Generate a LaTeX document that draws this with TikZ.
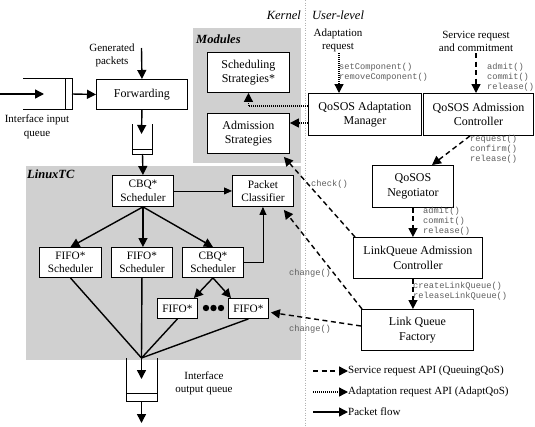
\documentclass[tikz,border=0pt]{standalone}
\usepackage{fontspec}
\setmainfont{Liberation Serif}
\setmonofont{Liberation Mono}
\usetikzlibrary{arrows.meta,calc}
\definecolor{panel}{RGB}{208,208,208}
\definecolor{apigray}{RGB}{95,95,95}
\begin{document}
\begin{tikzpicture}[x=1pt,y=-1pt,
 box/.style={draw, fill=white, line width=0.9pt, inner sep=0pt, align=center, anchor=north west, font=\fontsize{12}{14.5}\selectfont},
 sbox/.style={box, font=\fontsize{11.3}{13.5}\selectfont},
 flow/.style={line width=1.4pt, -{Triangle[length=9pt,width=9pt]}},
 thinflow/.style={line width=0.9pt, -{Triangle[length=8pt,width=7pt]}},
 plainflow/.style={line width=1.4pt},
 svc/.style={line width=1.4pt, dash pattern=on 5pt off 3.5pt, -{Triangle[length=9pt,width=9pt]}},
 adp/.style={line width=1.3pt, dash pattern=on 1pt off 1pt, -{Triangle[length=9pt,width=9pt]}},
 api/.style={font=\fontsize{8.7}{10}\selectfont\ttfamily, text=apigray, align=left, inner sep=0pt, anchor=north west},
 lbl/.style={font=\fontsize{11}{13.5}\selectfont, align=center, inner sep=0pt},
 legtxt/.style={anchor=west, inner sep=0pt, font=\fontsize{11}{13}\selectfont},
 ]
\useasboundingbox (0,0) rectangle (535,426);
\fill[white] (0,0) rectangle (535,426);
% panels
\fill[panel] (193,28) rectangle (301,163);
\fill[panel] (26,166) rectangle (301,360);
% separator
\draw[gray!60, line width=0.6pt, dash pattern=on 1pt off 1.5pt] (305,0) -- (305,426);
\node[anchor=east, inner sep=0pt, font=\fontsize{12.5}{14}\selectfont\itshape] (kern) at (301,15) {Kernel};
\node[anchor=west, inner sep=0pt, font=\fontsize{12.5}{14}\selectfont\itshape] (user) at (312,15) {User-level};
\node[anchor=west, inner sep=0pt, font=\fontsize{12.5}{14}\selectfont\bfseries\itshape] (modlbl) at (196,39) {Modules};
\node[anchor=west, inner sep=0pt, font=\fontsize{12.5}{14}\selectfont\bfseries\itshape] (tclbl) at (27,174) {LinuxTC};

% boxes
\node[box, minimum width=82pt, minimum height=40pt] (sched) at (207,52) {Scheduling\\Strategies*};
\node[box, minimum width=82pt, minimum height=40pt] (adm) at (207,113) {Admission\\Strategies};
\node[box, minimum width=91pt, minimum height=30pt] (fwd) at (96,79) {Forwarding};
\node[sbox, minimum width=61pt, minimum height=31pt] (cbq) at (112,175) {CBQ*\\Scheduler};
\node[sbox, minimum width=61pt, minimum height=31pt] (pc) at (232,175) {Packet\\Classifier};
\node[sbox, minimum width=62pt, minimum height=30pt] (f1) at (39,247) {FIFO*\\Scheduler};
\node[sbox, minimum width=61pt, minimum height=30pt] (f2) at (111,247) {FIFO*\\Scheduler};
\node[sbox, minimum width=61pt, minimum height=30pt] (cbq2) at (182,247) {CBQ*\\Scheduler};
\node[sbox, minimum width=40pt, minimum height=20pt] (sf1) at (157,298) {FIFO*};
\node[sbox, minimum width=40pt, minimum height=20pt] (sf2) at (228,298) {FIFO*};
\node[box, minimum width=113pt, minimum height=42pt] (qam) at (308,93) {QoSOS Adaptation\\Manager};
\node[box, minimum width=110pt, minimum height=42pt] (qac) at (423,93) {QoSOS Admission\\Controller};
\node[box, minimum width=81pt, minimum height=42pt] (neg) at (372,165) {QoSOS\\Negotiator};
\node[box, minimum width=129pt, minimum height=41pt] (lqac) at (353,237) {LinkQueue Admission\\Controller};
\node[box, minimum width=112pt, minimum height=41pt] (lqf) at (361,309) {Link Queue\\Factory};

% dots
\fill (206,308) circle (3.2);
\fill (213.5,308) circle (3.2);
\fill (221,308) circle (3.2);

% queues
\draw[line width=0.9pt] (23,78) -- (72,78) -- (72,109) -- (23,109);
\draw[line width=0.9pt] (65,78) -- (65,109);
\draw[line width=0.9pt] (132,124) -- (132,154) -- (152,154) -- (152,124);
\draw[line width=0.9pt] (132,149) -- (152,149);
\draw[line width=0.9pt] (126,358) -- (126,401) -- (157,401) -- (157,358);
\draw[line width=0.9pt] (126,393) -- (157,393);

% labels
\node[lbl] (genl) at (112,55.5) {Generated\\packets};
\node[lbl] (inql) at (37,127) {Interface input\\queue};
\node[lbl] (adrl) at (338,40.5) {Adaptation\\request};
\node[lbl] (srl) at (476,41.5) {Service request\\and commitment};
\node[lbl] (oql) at (204,383.5) {Interface\\output queue};

% packet flow
\coordinate (inA) at (0,94);
\coordinate (inB) at (44,94);
\draw[flow] (inA) -- (inB);
\coordinate (inQ) at (72,94);
\draw[flow] (inQ) -- (fwd.west);
\coordinate (gen) at (141.5,48);
\draw[flow] (gen) -- (fwd.north);
\coordinate (mqt) at (141.5,134);
\draw[flow] (fwd.south) -- (mqt);
\coordinate (mqb) at (142.5,154);
\draw[flow] (mqb) -- (cbq.north);
\draw[thinflow] (cbq.east) -- (pc.west);
\draw[flow] (cbq.south) -- (f1.north);
\draw[flow] (cbq.south) -- (cbq.south |- f2.north);
\draw[flow] (cbq.south) -- (cbq2.north);
\draw[thinflow] (cbq2.east) -| (pc.south);
\draw[flow] (cbq2.south) -- ([xshift=-4pt]sf1.north east);
\draw[flow] (cbq2.south) -- ([xshift=3pt]sf2.north west);
\coordinate (conv) at (141.5,358);
\draw[plainflow] (f1.south) -- (conv);
\draw[plainflow] (f2.south) -- (conv);
\draw[plainflow] (sf1.south) -- (conv);
\draw[plainflow] (sf2.south) -- (conv);
\coordinate (oq) at (141.5,379);
\draw[flow] (conv) -- (oq);
\coordinate (oqb) at (141.5,401);
\coordinate (outE) at (141.5,423);
\draw[flow] (oqb) -- (outE);

% adaptation (dotted)
\coordinate (adreq) at (339,53);
\draw[adp] (adreq) -- (adreq |- qam.north);
\coordinate (qamU) at ([yshift=-13pt]qam.north west);
\draw[adp] (qamU) -| (sched.south);
\coordinate (qamL) at ([yshift=-30pt]qam.north west);
\draw[adp] (qamL) -- (adm.east |- qamL);

% service (dashed)
\coordinate (sreq) at (476,53);
\draw[svc] (sreq) -- (sreq |- qac.north);
\draw[svc] ([xshift=47pt]qac.south west) -- ([xshift=60pt]neg.north west);
\draw[svc] (neg.south) -- (neg.south |- lqac.north);
\draw[svc] (lqac.south -| neg.south) -- (neg.south |- lqf.north);
\draw[svc] ([xshift=2pt]lqac.north west) -- ([xshift=-6pt,yshift=-3pt]adm.south east);
\draw[svc] ([xshift=1pt]lqf.north west) -- ([xshift=-10pt,yshift=-3pt]pc.south east);
\draw[svc] ([yshift=-17pt]lqf.north west) -- ([xshift=2pt,yshift=-4pt]sf2.east);

% api labels
\node[api] (setc) at (339,63) {setComponent()\\removeComponent()};
\node[api] (admA) at (487,63) {admit()\\commit()\\release()};
\node[api] (reqc) at (470,135) {request()\\confirm()\\release()};
\node[api] (admB) at (423,207) {admit()\\commit()\\release()};
\node[api] (clq) at (413,282) {createLinkQueue()\\releaseLinkQueue()};
\node[api, anchor=west] (chk) at (311,184) {check()};
\node[api, anchor=west] (chgA) at (289,273) {change()};
\node[api, anchor=west] (chgB) at (289,329) {change()};

% legend
\node[legtxt] (lg1) at (348,371) {Service request API (QueuingQoS)};
\node[legtxt] (lg2) at (348,392) {Adaptation request API (AdaptQoS)};
\node[legtxt] (lg3) at (348,412) {Packet flow};
\coordinate (lg1a) at (313,371);
\coordinate (lg2a) at (313,392);
\coordinate (lg3a) at (313,412);
\draw[svc] (lg1a) -- (lg1.west);
\draw[adp] (lg2a) -- (lg2.west);
\draw[flow] (lg3a) -- (lg3.west);
\end{tikzpicture}
\end{document}
